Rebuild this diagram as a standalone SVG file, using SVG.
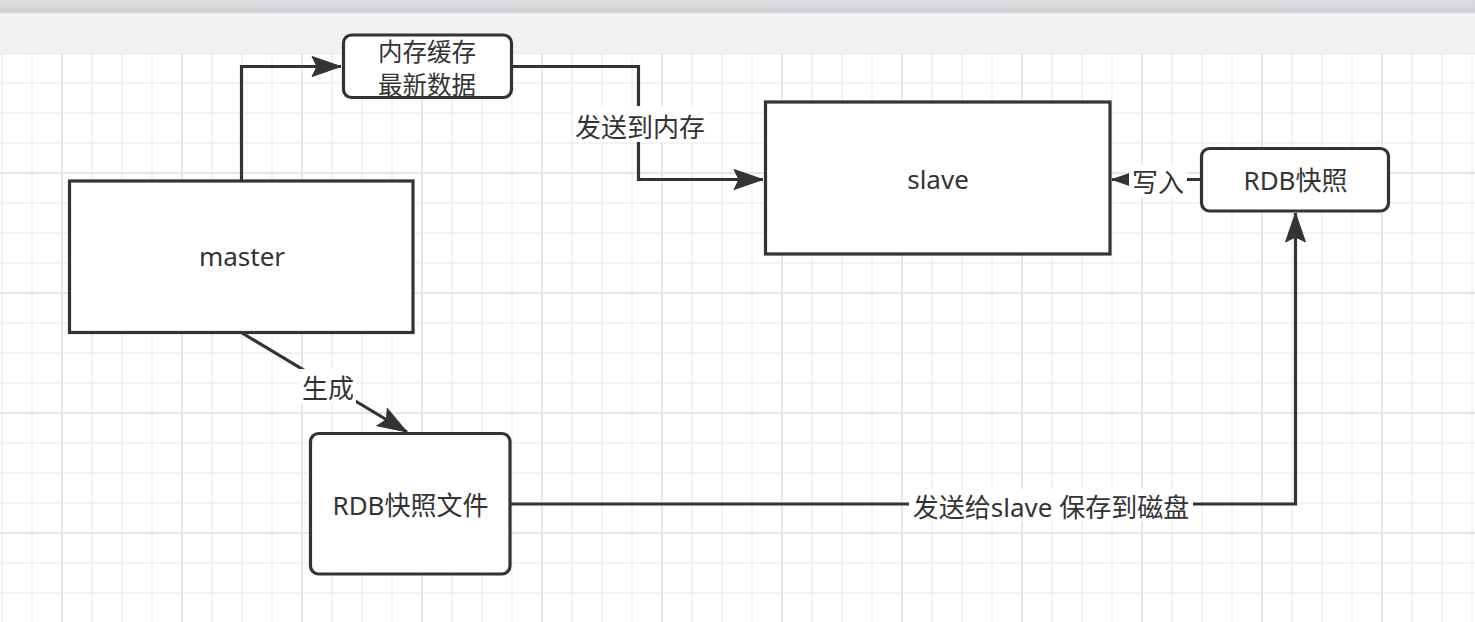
<svg xmlns="http://www.w3.org/2000/svg" width="1475" height="622" viewBox="0 0 1475 622">
<style>
.node{fill:#ffffff;stroke:#333333;stroke-width:3.2}
.edge{fill:none;stroke:#333333;stroke-width:3.2}
.lbl{fill:#333333;font-family:"Noto Sans","Noto Sans CJK SC",sans-serif;font-size:26px;text-anchor:middle}
.tight{font-size:24.5px}
.bg{fill:#ffffff}
.minor{stroke:#efefef;stroke-width:1.6}
.major{stroke:#e6e6e6;stroke-width:2}
</style>
<defs>
<pattern id="grid" patternUnits="userSpaceOnUse" x="-13" y="38" width="120" height="120">
<rect width="120" height="120" fill="#ffffff"/>
<line class="minor" x1="15" y1="0" x2="15" y2="120"/>
<line class="minor" x1="45" y1="0" x2="45" y2="120"/>
<line class="minor" x1="105" y1="0" x2="105" y2="120"/>
<line class="minor" x1="0" y1="45" x2="120" y2="45"/>
<line class="minor" x1="0" y1="75" x2="120" y2="75"/>
<line class="minor" x1="0" y1="105" x2="120" y2="105"/>
<line class="major" x1="75" y1="0" x2="75" y2="120"/>
<line class="major" x1="0" y1="15" x2="120" y2="15"/>
</pattern>
<linearGradient id="top" x1="0" y1="0" x2="0" y2="1">
<stop offset="0" stop-color="#dcdcdf"/>
<stop offset="1" stop-color="#d2d2d6"/>
</linearGradient>
<marker id="arrow" markerUnits="userSpaceOnUse" markerWidth="32" markerHeight="24" viewBox="0 0 32 24" refX="30" refY="12" orient="auto">
<path d="M30,12 L1,2 L6,12 L1,22 Z" fill="#333333" stroke="#333333" stroke-width="1"/>
</marker>
</defs>
<rect x="0" y="0" width="1475" height="622" fill="#ffffff"/>
<rect x="0" y="0" width="1475" height="13" fill="url(#top)"/>
<rect x="0" y="13" width="1475" height="40" fill="#f2f2f2"/>
<rect x="0" y="53" width="1475" height="569" fill="url(#grid)"/>

<g id="connectors">
<path class="edge" d="M241.5,181 L241.5,66.5 L341,66.5" marker-end="url(#arrow)"/>
<path class="edge" d="M511,66.5 L638.5,66.5 L638.5,179.5 L763,179.5" marker-end="url(#arrow)"/>
<rect class="bg" x="573" y="106" width="134" height="36"/>
<text class="lbl" x="640" y="136.5">发送到内存</text>
<path class="edge" d="M1201,179.5 L1112,179.5" marker-end="url(#arrow)"/>
<rect class="bg" x="1129" y="165" width="58" height="32"/>
<text class="lbl" x="1158" y="191.5">写入</text>
<path class="edge" d="M242,333 L407,432" marker-end="url(#arrow)"/>
<rect class="bg" x="299" y="369" width="57" height="35"/>
<text class="lbl" x="328" y="397.5">生成</text>
<path class="edge" d="M510,504 L1295.5,504 L1295.5,213" marker-end="url(#arrow)"/>
<rect class="bg" x="909" y="489" width="284" height="32"/>
<text class="lbl" x="1051" y="516.5">发送给slave 保存到磁盘</text>
</g>

<g id="master">
<rect class="node" x="69.5" y="181" width="343.5" height="151.5"/>
<text class="lbl" x="242" y="266">master</text>
</g>

<g id="mem-cache">
<rect class="node" x="343.5" y="35" width="168" height="62.5" rx="8" ry="8"/>
<text class="lbl tight" x="427" y="60.5">内存缓存</text>
<text class="lbl tight" x="427" y="94">最新数据</text>
</g>

<g id="slave">
<rect class="node" x="765.5" y="102" width="344.5" height="152"/>
<text class="lbl" x="938" y="188.5">slave</text>
</g>

<g id="rdb-snapshot">
<rect class="node" x="1201.5" y="148.5" width="187" height="62.5" rx="8" ry="8"/>
<text class="lbl" x="1295.5" y="189.5">RDB快照</text>
</g>

<g id="rdb-file">
<rect class="node" x="310.5" y="433.5" width="199.5" height="140.5" rx="8" ry="8"/>
<text class="lbl" x="410.5" y="515">RDB快照文件</text>
</g>
</svg>
